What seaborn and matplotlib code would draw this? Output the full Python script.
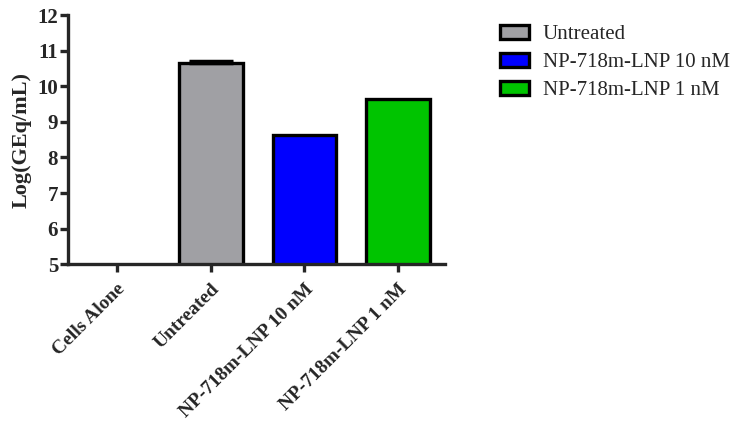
import numpy as np
import pandas as pd
import matplotlib
matplotlib.use("Agg")
import matplotlib.pyplot as plt
import seaborn as sns
from matplotlib.patches import Patch

# === Data ===
groups = ["Cells Alone", "Untreated", "NP-718m-LNP 10 nM", "NP-718m-LNP 1 nM"]
values = [np.nan, 10.65, 8.64, 9.65]
errors = [np.nan, 0.07, np.nan, np.nan]
colors = ["#ffffff", "#a0a0a4", "#0000ff", "#00c400"]

df = pd.DataFrame({"group": groups, "value": values, "err": errors})

sns.set_theme(style="ticks")
plt.rcParams["font.family"] = ["Liberation Serif", "DejaVu Serif"]

fig = plt.figure(figsize=(7.34, 4.22), dpi=100)
ax = fig.add_axes([0.0926, 0.374, 0.514, 0.590])

sns.barplot(data=df, x="group", y="value", hue="group", palette=colors,
            order=groups, hue_order=groups, width=0.68, edgecolor="black",
            linewidth=2.4, errorbar=None, legend=False, saturation=1, ax=ax)

# === Error bar (upper only) ===
has_err = df["err"].notna()
xs = np.arange(len(groups))[has_err]
ax.errorbar(x=xs, y=df["value"][has_err], yerr=[np.zeros(has_err.sum()), df["err"][has_err]],
            fmt="none", ecolor="black", elinewidth=2, capsize=16, capthick=2.5)

ax.set_ylim(5, 12)
ax.set_xlim(-0.52, 3.5)
ax.set_yticks(range(5, 13))
ax.set_ylabel("Log(GEq/mL)", fontsize=16, fontweight="bold")
ax.set_xlabel("")
for s in ["top", "right"]:
    ax.spines[s].set_visible(False)
for s in ["left", "bottom"]:
    ax.spines[s].set_linewidth(2.4)
ax.tick_params(axis="both", width=2.4, length=6, direction="out")
ax.tick_params(axis="y", labelsize=15, pad=1)
ax.tick_params(axis="x", labelsize=14, pad=6)
for lbl in ax.get_yticklabels():
    lbl.set_fontweight("bold")
for lbl in ax.get_xticklabels():
    lbl.set_fontweight("bold")
    lbl.set_rotation(45)
    lbl.set_ha("right")
    lbl.set_rotation_mode("anchor")

# === Legend ===
handles = [Patch(facecolor=colors[i], edgecolor="black", linewidth=2.4, label=groups[i])
           for i in range(1, 4)]
fig.legend(handles=handles, loc="upper left", bbox_to_anchor=(0.681, 0.94),
           frameon=False, fontsize=15, handlelength=1.4, handleheight=0.63,
           handletextpad=0.67, labelspacing=0.42, borderpad=0, borderaxespad=0)

fig.savefig("out.png", dpi=100)
